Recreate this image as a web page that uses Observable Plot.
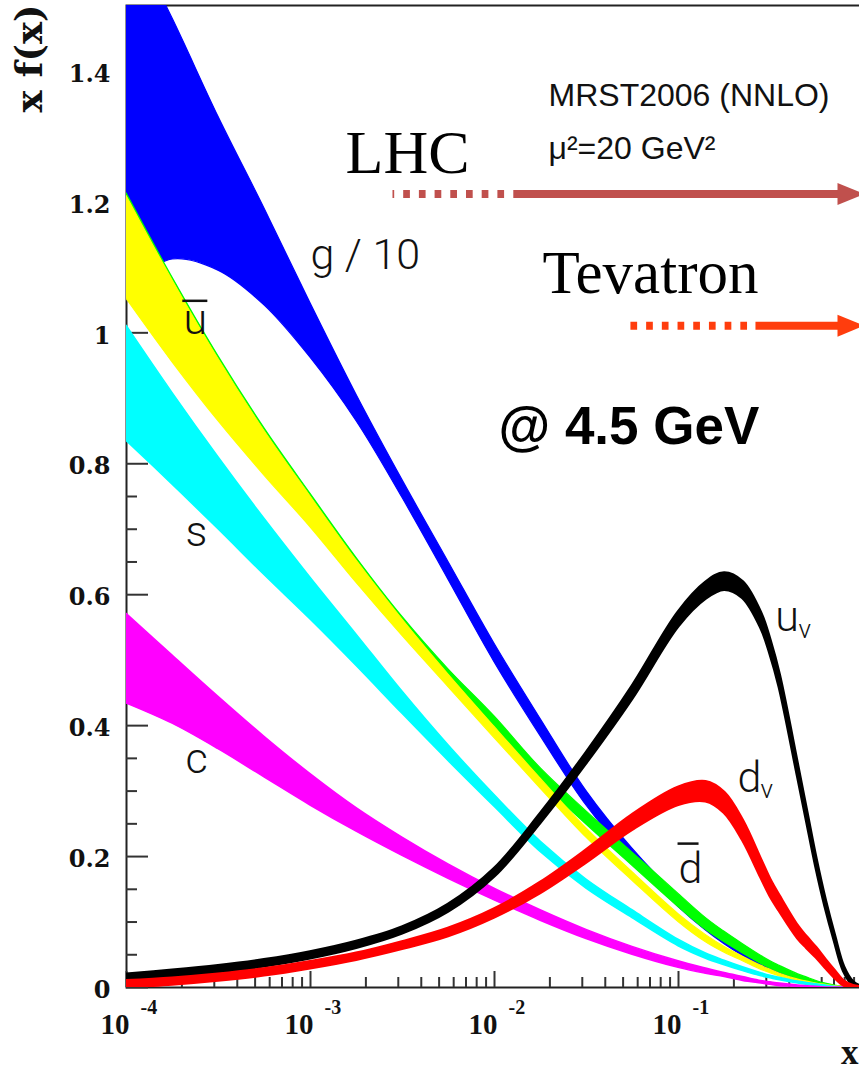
<!DOCTYPE html>
<html><head><meta charset="utf-8">
<script src="https://cdn.jsdelivr.net/npm/d3@7"></script>
<script src="https://cdn.jsdelivr.net/npm/@observablehq/plot@0.6"></script>
<style>
html,body{margin:0;padding:0;background:#fff;overflow:hidden;}
#chart svg{overflow:hidden !important;display:block;}
</style></head><body><div id="chart"></div>
<script>
// x grid (momentum fraction)
const xGrid = [0.0001, 0.000178, 0.000316, 0.000562, 0.001, 0.00178, 0.00316, 0.00562, 0.01, 0.0178, 0.0316, 0.0562, 0.1, 0.141, 0.178, 0.224, 0.282, 0.316, 0.355, 0.447, 0.501, 0.562, 0.631, 0.708, 0.794, 0.891, 1.0];

// g/10 (blue)
const gUpper = [1.62, 1.48, 1.33, 1.19, 1.045, 0.905, 0.775, 0.65, 0.525, 0.41, 0.30, 0.212, 0.138, 0.1, 0.078, 0.058, 0.04, 0.033, 0.026, 0.015, 0.011, 0.007, 0.004, 0.002, 0.001, 0, 0];
const gLower = [1.07, 1.112, 1.095, 1.042, 0.962, 0.865, 0.748, 0.623, 0.497, 0.384, 0.278, 0.194, 0.123, 0.087, 0.066, 0.048, 0.032, 0.026, 0.02, 0.011, 0.008, 0.005, 0.003, 0.001, 0, 0, 0];
// dbar (green)
const dbarUpper = [1.213, 1.084, 0.964, 0.854, 0.754, 0.656, 0.566, 0.486, 0.414, 0.335, 0.269, 0.206, 0.143, 0.106, 0.085, 0.066, 0.048, 0.04, 0.033, 0.02, 0.015, 0.01, 0.006, 0.003, 0.001, 0, 0];
const dbarLower = [1.06, 0.96, 0.87, 0.785, 0.705, 0.62, 0.54, 0.465, 0.394, 0.315, 0.249, 0.186, 0.123, 0.088, 0.069, 0.052, 0.036, 0.029, 0.023, 0.013, 0.009, 0.006, 0.003, 0.001, 0, 0, 0];
// ubar (yellow)
const ubarUpper = [1.209, 1.08, 0.96, 0.85, 0.75, 0.652, 0.562, 0.478, 0.398, 0.319, 0.243, 0.176, 0.112, 0.08, 0.062, 0.047, 0.033, 0.027, 0.021, 0.012, 0.009, 0.006, 0.004, 0.002, 0.001, 0, 0];
const ubarLower = [1.052, 0.955, 0.865, 0.782, 0.703, 0.618, 0.537, 0.459, 0.381, 0.304, 0.229, 0.163, 0.1, 0.069, 0.053, 0.04, 0.027, 0.022, 0.017, 0.009, 0.006, 0.004, 0.002, 0.001, 0, 0, 0];
// s (cyan)
const sUpper = [1.011, 0.908, 0.81, 0.716, 0.626, 0.539, 0.452, 0.37, 0.294, 0.223, 0.165, 0.118, 0.073, 0.052, 0.041, 0.031, 0.022, 0.018, 0.015, 0.009, 0.007, 0.005, 0.003, 0.001, 0, 0, 0];
const sLower = [0.835, 0.768, 0.70, 0.63, 0.562, 0.491, 0.418, 0.346, 0.276, 0.207, 0.151, 0.106, 0.063, 0.044, 0.034, 0.025, 0.017, 0.014, 0.011, 0.006, 0.004, 0.002, 0.001, 0, 0, 0, 0];
// c (magenta)
const cUpper = [0.571, 0.507, 0.444, 0.383, 0.326, 0.274, 0.229, 0.188, 0.151, 0.118, 0.088, 0.062, 0.04, 0.029, 0.022, 0.016, 0.01, 0.008, 0.006, 0.003, 0.002, 0.001, 0, 0, 0, 0, 0];
const cLower = [0.434, 0.403, 0.364, 0.321, 0.278, 0.238, 0.201, 0.166, 0.133, 0.102, 0.074, 0.05, 0.03, 0.021, 0.016, 0.01, 0.006, 0.004, 0.002, 0.001, 0, 0, 0, 0, 0, 0, 0];
// u valence (black)
const uvUpper = [0.0195, 0.0255, 0.0325, 0.0415, 0.0535, 0.0695, 0.0915, 0.126, 0.1805, 0.2645, 0.3575, 0.459, 0.5725, 0.618, 0.6325, 0.619, 0.571, 0.53, 0.477, 0.338, 0.267, 0.196, 0.133, 0.079, 0.031, 0.008, 0];
const uvLower = [0.0105, 0.0165, 0.0235, 0.0325, 0.0445, 0.0605, 0.0825, 0.116, 0.1695, 0.2515, 0.3425, 0.441, 0.5515, 0.594, 0.6075, 0.595, 0.549, 0.51, 0.459, 0.322, 0.253, 0.184, 0.123, 0.071, 0.025, 0.004, 0];
// d valence (red)
const dvUpper = [0.0095, 0.0135, 0.0195, 0.0275, 0.0385, 0.0515, 0.069, 0.0895, 0.119, 0.1595, 0.209, 0.263, 0.305, 0.3135, 0.297, 0.2545, 0.194, 0.164, 0.139, 0.093, 0.076, 0.06, 0.042, 0.025, 0.009, 0.002, 0];
const dvLower = [0.0005, 0.0045, 0.0105, 0.0185, 0.0295, 0.0425, 0.059, 0.0785, 0.107, 0.1445, 0.191, 0.241, 0.279, 0.2845, 0.267, 0.2255, 0.168, 0.14, 0.117, 0.075, 0.06, 0.046, 0.03, 0.015, 0.003, 0, 0];

// ticks
const yMajorTicks = [0, 0.2, 0.4, 0.6, 0.8, 1, 1.2, 1.4];
const yMinorTicks = [0.05, 0.1, 0.15, 0.25, 0.3, 0.35, 0.45, 0.5, 0.55, 0.65, 0.7, 0.75, 0.85, 0.9, 0.95, 1.05, 1.1, 1.15, 1.25, 1.3, 1.35, 1.45];
const xDecades = [0.0001, 0.001, 0.01, 0.1, 1];
const xDecadeExponents = ["-4", "-3", "-2", "-1"];
const xMinorMultipliers = [2, 3, 4, 5, 6, 7, 8, 9];

// labels (data coordinates)
const curveLabels = [
  {text: "g / 10", x: 0.001, y: 1.098},
  {text: "u", x: 0.000204, y: 0.998},
  {text: "s", x: 0.000209, y: 0.675},
  {text: "c", x: 0.000209, y: 0.327},
  {text: "u", x: 0.336, y: 0.545},
  {text: "d", x: 0.2094, y: 0.298},
  {text: "d", x: 0.1, y: 0.159}
];
// overbars of the antiquark labels (u-bar, d-bar)
const overBars = [
  {x1: 0.000201, x2: 0.000275, y: 1.0489},
  {x1: 0.0988, x2: 0.1285, y: 0.2198}
];
const subscriptLabels = [
  {text: "v", x: 0.449, y: 0.534},
  {text: "v", x: 0.279, y: 0.29}
];
const colliderLabels = [
  {text: "LHC", x: 0.00155, y: 1.244, size: 62},
  {text: "Tevatron", x: 0.01824, y: 1.061, size: 61}
];
const infoLabels = [
  {text: "MRST2006 (NNLO)", x: 0.01966, y: 1.3466},
  {text: "μ²=20 GeV²", x: 0.01966, y: 1.2656}
];
const scaleLabel = [{text: "@ 4.5 GeV", x: 0.01051, y: 0.8305}];

const arrows = [
  {name: "LHC", y: 1.212, dashFrom: 0.00279, solidFrom: 0.0127, solidTo: 0.85, tip: 1.025, color: "#c0504d", offset: 5},
  {name: "Tevatron", y: 1.011, dashFrom: 0.0548, solidFrom: 0.262, solidTo: 0.85, tip: 1.025, color: "#ff3d0d", offset: 0}
];

const bands = [
  {color: "#0000ff", lower: gLower, upper: gUpper, sw: 1.2},
  {color: "#00ff00", lower: dbarLower, upper: dbarUpper, sw: 1.2},
  {color: "#ffff00", lower: ubarLower, upper: ubarUpper, sw: 1.2},
  {color: "#00ffff", lower: sLower, upper: sUpper, sw: 1.5},
  {color: "#ff00ff", lower: cLower, upper: cUpper, sw: 1.5},
  {color: "#000000", lower: uvLower, upper: uvUpper, sw: 3.5},
  {color: "#ff0000", lower: dvLower, upper: dvUpper, sw: 3.5}
];

const xMinorTicks = xDecades.slice(0, 4).flatMap(d => xMinorMultipliers.map(m => d * m));

const sansThin = "Roboto, 'Liberation Sans', sans-serif";
const frameW = 736, frameH = 982;

const marks = [
  Plot.frame({stroke: "#222", strokeWidth: 2}),
  Plot.tickY(yMajorTicks, {y: d => d, insetRight: frameW - 22, stroke: "#333", strokeWidth: 2}),
  Plot.tickY(yMinorTicks, {y: d => d, insetRight: frameW - 11, stroke: "#333", strokeWidth: 2}),
  Plot.tickX(xDecades, {x: d => d, insetTop: frameH - 16, stroke: "#333", strokeWidth: 2}),
  Plot.tickX(xMinorTicks, {x: d => d, insetTop: frameH - 10, stroke: "#333", strokeWidth: 2}),
  ...bands.map(b => Plot.areaY(xGrid.map((x, i) => ({x, lo: b.lower[i], hi: b.upper[i]})), {
    x: "x", y1: "lo", y2: "hi", fill: b.color, stroke: b.color, strokeWidth: b.sw,
    strokeLinejoin: "round", curve: "catmull-rom", clip: true
  })),
  // y tick labels
  Plot.text(yMajorTicks, {y: d => d, frameAnchor: "left", dx: -16, dy: 3, textAnchor: "end",
    text: d => String(d), fontFamily: "'DejaVu Serif', serif", fontWeight: "bold", fontSize: 24, fill: "#111"}),
  // x tick labels
  Plot.text(xDecades.slice(0, 4), {x: d => d, frameAnchor: "bottom", dx: 3, dy: 46, textAnchor: "end", lineAnchor: "bottom",
    text: d => "10", fontFamily: "'Liberation Serif', serif", fontWeight: "bold", fontSize: 29, fill: "#111"}),
  Plot.text(xDecades.slice(0, 4), {x: d => d, frameAnchor: "bottom", dx: 14, dy: 26, textAnchor: "start", lineAnchor: "bottom",
    text: (d, i) => xDecadeExponents[i], fontFamily: "'Liberation Serif', serif", fontWeight: "bold", fontSize: 20, fill: "#111"}),
  // axis titles
  Plot.text(["x f(x)"], {frameAnchor: "top-left", dx: -96, dy: 53, rotate: -90, textAnchor: "middle", lineAnchor: "middle",
    text: d => d, fontFamily: "'DejaVu Serif', serif", fontWeight: "bold", fontSize: 37, fill: "#111"}),
  Plot.text(["x"], {frameAnchor: "bottom-right", dx: -4, dy: 76, textAnchor: "end", lineAnchor: "bottom",
    text: d => d, fontFamily: "'Liberation Serif', serif", fontWeight: "bold", fontSize: 35, fill: "#111"}),
  // arrows
  ...arrows.flatMap(a => [
    Plot.link([a], {x1: "dashFrom", x2: "solidFrom", y1: "y", y2: "y", stroke: a.color, strokeWidth: 8,
      strokeDasharray: "6.7,9", strokeDashoffset: a.offset, strokeLinecap: "butt"}),
    Plot.link([a], {x1: "solidFrom", x2: "solidTo", y1: "y", y2: "y", stroke: a.color, strokeWidth: 8, strokeLinecap: "butt"}),
    Plot.vector([a], {x: "tip", y: "y", length: 27, r: 11, rotate: 90, anchor: "end", fill: a.color, stroke: "none",
      shape: {draw(context, l, r) { context.moveTo(0, -l); context.lineTo(-r, 0); context.lineTo(r, 0); context.closePath(); }}})
  ]),
  // annotations
  Plot.text(curveLabels, {x: "x", y: "y", text: "text", textAnchor: "start", lineAnchor: "bottom",
    fontFamily: sansThin, fontWeight: 300, fontSize: 43, fill: "#111"}),
  Plot.link(overBars, {x1: "x1", x2: "x2", y1: "y", y2: "y", stroke: "#111", strokeWidth: 2.5}),
  Plot.text(subscriptLabels, {x: "x", y: "y", text: "text", textAnchor: "start", lineAnchor: "bottom",
    fontFamily: sansThin, fontWeight: 300, fontSize: 26, fill: "#111"}),
  Plot.text(colliderLabels, {x: "x", y: "y", text: "text", textAnchor: "start", lineAnchor: "bottom",
    fontFamily: "'Liberation Serif', serif", fontSize: d => d.size, fill: "#000"}),
  Plot.text(infoLabels, {x: "x", y: "y", text: "text", textAnchor: "start", lineAnchor: "bottom",
    fontFamily: "'Liberation Sans', sans-serif", fontSize: 32, fill: "#111"}),
  Plot.text(scaleLabel, {x: "x", y: "y", text: "text", textAnchor: "start", lineAnchor: "bottom",
    fontFamily: "'Liberation Sans', sans-serif", fontWeight: "bold", fontSize: 53, fill: "#000"})
];

const chart = Plot.plot({
  width: 859, height: 1072,
  marginLeft: 126, marginRight: -3, marginTop: 5, marginBottom: 85,
  x: {type: "log", domain: [1e-4, 1], axis: null},
  y: {domain: [0, 1.5], axis: null},
  style: {background: "#fff", overflow: "hidden"},
  marks
});
document.getElementById("chart").appendChild(chart);
</script></body></html>
